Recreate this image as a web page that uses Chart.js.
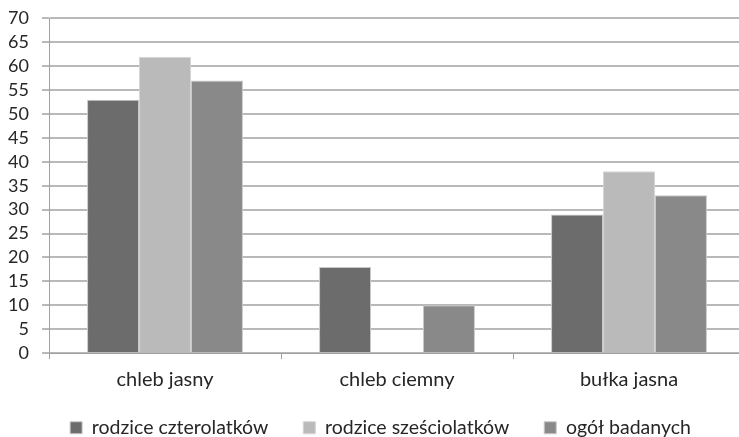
<!DOCTYPE html>
<html>
<head>
<meta charset="utf-8">
<script src="https://cdn.jsdelivr.net/npm/chart.js@4/dist/chart.umd.min.js"></script>
<style>
  html, body { margin: 0; padding: 0; background: #fff; overflow: hidden; }
  #wrap { width: 750px; height: 437px; }
</style>
</head>
<body>
<div id="wrap"><canvas id="myChart"></canvas></div>
<script>
// produkty i odsetki odpowiedzi (%)
var produkty = ['chleb jasny', 'chleb ciemny', 'bułka jasna'];
var czterolatki = [53, 18, 29];
var szesciolatki = [62, null, 38];
var ogol = [57, 10, 33];
var yTicks = [0, 5, 10, 15, 20, 25, 30, 35, 40, 45, 50, 55, 60, 65, 70];

var font = "Lato, 'Open Sans', sans-serif";

// legenda: stała wysokość i ręczne przesunięcie
var legendShift = {
    id: 'legendShift',
    beforeLayout(chart) {
        var lg = chart.legend;
        if (lg && !lg._fixedFit) {
            var fit = lg.fit.bind(lg);
            lg.fit = function () { fit(); this.height = 44; };
            lg._fixedFit = true;
        }
    },
    afterLayout(chart) {
        var lg = chart.legend;
        lg.left += 8;
        lg.right += 8;
        lg.top = 383;
        lg.bottom = 437;
    }
};

const ctx = document.getElementById('myChart');
const myChart = new Chart(ctx, {
    type: 'bar',
    data: {
        labels: produkty,
        datasets: [{
            label: 'rodzice czterolatków',
            data: czterolatki,
            backgroundColor: '#6c6c6c',
            borderColor: '#c8c8c8',
            borderWidth: 1
        }, {
            label: 'rodzice sześciolatków',
            data: szesciolatki,
            backgroundColor: '#bababa',
            borderColor: '#d4d4d4',
            borderWidth: 1
        }, {
            label: 'ogół badanych',
            data: ogol,
            backgroundColor: '#898989',
            borderColor: '#c8c8c8',
            borderWidth: 1
        }]
    },
    options: {
        responsive: true,
        maintainAspectRatio: false,
        animation: false,
        categoryPercentage: 0.672,
        barPercentage: 1,
        layout: { padding: { top: 17, right: 5, bottom: 0, left: 0 } },
        plugins: {
            tooltip: { enabled: false },
            legend: {
                position: 'bottom',
                labels: {
                    font: { family: font, size: 19.5 },
                    color: '#262626',
                    boxWidth: 12,
                    boxHeight: 12,
                    padding: 35
                }
            }
        },
        scales: {
            x: {
                grid: {
                    display: true,
                    drawOnChartArea: false,
                    offset: true,
                    tickLength: 6,
                    color: '#a0a0a0'
                },
                border: { color: '#a0a0a0', width: 1 },
                ticks: {
                    font: { family: font, size: 20 },
                    color: '#262626',
                    padding: 9
                },
                afterFit(scale) { scale.height = 40; }
            },
            y: {
                min: 0,
                max: 70,
                afterBuildTicks(scale) {
                    scale.ticks = yTicks.map(v => ({ value: v }));
                },
                grid: {
                    color: '#b9b9b9',
                    lineWidth: 2,
                    tickLength: 7
                },
                border: { color: '#a0a0a0', width: 1 },
                ticks: {
                    autoSkip: false,
                    font: { family: font, size: 18, lineHeight: 0.6 },
                    color: '#262626',
                    padding: 13
                },
                afterFit(scale) { scale.width = 49; }
            }
        }
    },
    plugins: [legendShift]
});
</script>
</body>
</html>
